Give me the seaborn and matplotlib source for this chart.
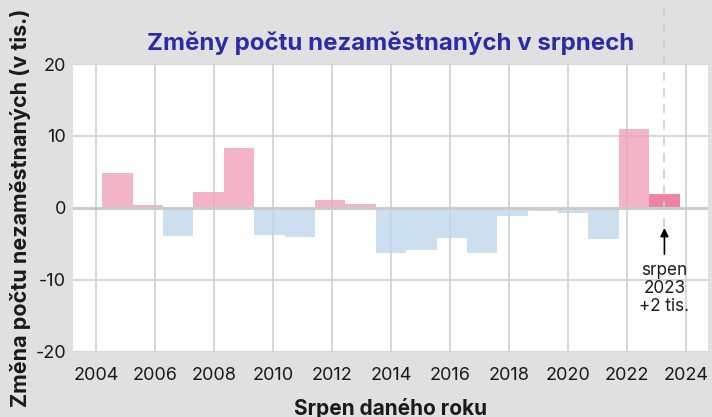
import numpy as np
import pandas as pd
import matplotlib
matplotlib.use("Agg")
import matplotlib.pyplot as plt
import seaborn as sns

# --- data ---
years = [2005, 2006, 2007, 2008, 2009, 2010, 2011, 2012, 2013, 2014,
         2015, 2016, 2017, 2018, 2019, 2020, 2021, 2022, 2023]
changes = [4.8, 0.35, -3.9, 2.2, 8.4, -3.8, -4.1, 1.05, 0.55, -6.2,
           -5.8, -4.2, -6.3, -1.1, -0.4, -0.65, -4.3, 11.0, 1.9]
xticks = [2004, 2006, 2008, 2010, 2012, 2014, 2016, 2018, 2020, 2022, 2024]
yticks = [-20, -10, 0, 10, 20]
title = "Změny počtu nezaměstnaných v srpnech"
ylabel = "Změna počtu nezaměstnaných (v tis.)"
xlabel = "Srpen daného roku"
note = "srpen\n2023\n+2 tis."

# band spacing of the original chart (slightly wider than one axis year)
band = 1.03
center_year = 2014

df = pd.DataFrame({"year": years, "change": changes})
df["pos"] = center_year + (df["year"] - center_year) * band
df["kind"] = np.where(df["change"] >= 0, "pos", "neg")
df.loc[df["year"] == years[-1], "kind"] = "last"

palette = {"pos": "#f2a2b9", "neg": "#c0d7ec", "last": "#ea668c"}

sns.set_theme(style="white")
plt.rcParams["font.family"] = ["Inter", "DejaVu Sans"]
plt.rcParams["axes.unicode_minus"] = False

fig = plt.figure(figsize=(7.12, 4.17), dpi=100, facecolor="#e0e0e0")
ax = fig.add_axes([0.1025, 0.156, 0.892, 0.6905])
ax.set_facecolor("white")

ax.grid(True, color="#d3d3d3", linewidth=1.3, zorder=0)
ax.set_axisbelow(True)

sns.barplot(data=df, x="pos", y="change", hue="kind", palette=palette,
            native_scale=True, dodge=False, width=1.0, alpha=0.8,
            saturation=1, linewidth=0, legend=False, ax=ax, zorder=2)

ax.set_xlim(2003.22, 2024.75)
ax.set_ylim(-20, 20)
ax.set_xticks(xticks)
ax.set_xticklabels([str(t) for t in xticks])
ax.set_yticks(yticks)
ax.set_yticklabels([str(t) for t in yticks])

ax.axhline(0, color="#cccccc", linewidth=2.2, zorder=3)

for s in ax.spines.values():
    s.set_visible(False)
ax.tick_params(axis="both", length=0, labelsize=13, colors="#1a1a1a")
ax.tick_params(axis="x", pad=11)
ax.tick_params(axis="y", pad=5)

# highlight annotation for last bar
last_x = df["pos"].iloc[-1]
ax.plot([last_x, last_x], [-2.6, 29.5], linestyle=(0, (5, 4)), color="#d0d0d0",
        linewidth=1.3, clip_on=False, zorder=4)
ax.annotate("", xy=(last_x, -2.4), xytext=(last_x, -6.8),
            arrowprops=dict(arrowstyle="-|>", color="black", lw=1.2,
                            mutation_scale=12), zorder=5)
ax.text(last_x, -7.5, note, ha="center", va="top", fontsize=12.3,
        linespacing=1.08, color="#1a1a1a", zorder=5)

ax.set_title(title, fontsize=17.3, fontweight="bold", color="#2b2ba6", pad=10)
ax.set_ylabel(ylabel, fontsize=15.5, fontweight="bold", color="#1a1a1a", labelpad=3)
ax.set_xlabel(xlabel, fontsize=15, fontweight="bold", color="#1a1a1a", labelpad=10)

fig.savefig("out.png", dpi=100, facecolor=fig.get_facecolor())
